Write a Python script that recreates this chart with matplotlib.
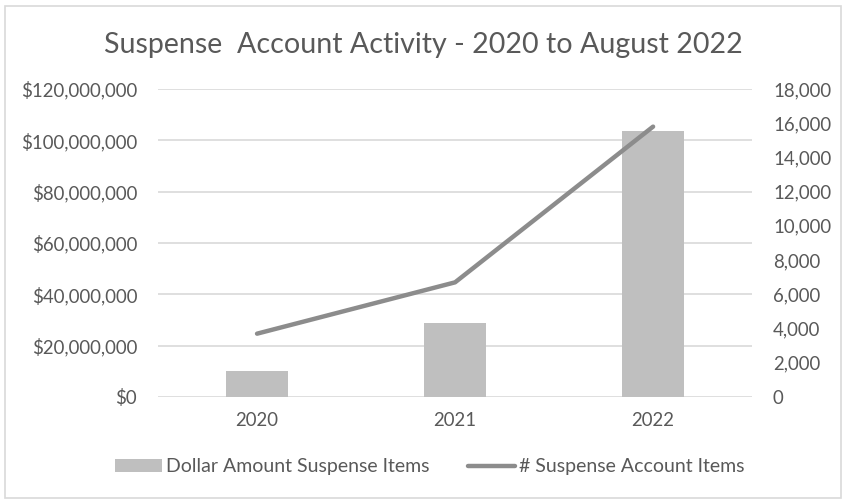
import matplotlib.pyplot as plt
from matplotlib.ticker import FuncFormatter
from matplotlib.patches import Rectangle

years = ['2020', '2021', '2022']
dollar_amount = [10_300_000, 28_900_000, 103_700_000]
item_count = [3700, 6700, 15800]

plt.rcParams['font.family'] = ['Lato', 'DejaVu Sans']
txt = '#595959'

fig = plt.figure(figsize=(8.46, 5.01), dpi=100)
ax = fig.add_axes([0.1868, 0.2076, 0.7022, 0.6148])
x = list(range(len(years)))

ax.bar(x, dollar_amount, width=0.31, color='#bfbfbf', zorder=2,
       label='Dollar Amount Suspense Items')
ax.set_ylim(0, 120_000_000)
ax.set_yticks(range(0, 120_000_001, 20_000_000))
ax.yaxis.set_major_formatter(FuncFormatter(lambda v, p: f'${v:,.0f}'))
ax.set_xlim(-0.5, 2.5)
ax.set_xticks(x)
ax.set_xticklabels(years)
ax.grid(axis='y', color='#d9d9d9', linewidth=1.2, zorder=0)
for s in ax.spines.values():
    s.set_visible(False)
ax.tick_params(length=0, labelsize=13.4, labelcolor=txt, pad=15)
ax.tick_params(axis='x', pad=11)

ax2 = ax.twinx()
ax2.plot(x, item_count, color='#8c8c8c', linewidth=3.2,
         solid_capstyle='round', label='# Suspense Account Items', zorder=3)
ax2.set_ylim(0, 18000)
ax2.set_yticks(range(0, 18001, 2000))
ax2.yaxis.set_major_formatter(FuncFormatter(lambda v, p: f'{v:,.0f}'))
for s in ax2.spines.values():
    s.set_visible(False)
ax2.tick_params(length=0, labelsize=13.4, labelcolor=txt, pad=15)

fig.text(0.5, 0.91, 'Suspense  Account Activity - 2020 to August 2022',
         ha='center', va='center', fontsize=20.6, color=txt)

h1, l1 = ax.get_legend_handles_labels()
h2, l2 = ax2.get_legend_handles_labels()
fig.legend(h1 + h2, l1 + l2, loc='center', bbox_to_anchor=(0.508, 0.068),
           ncol=2, frameon=False, fontsize=14, labelcolor=txt,
           handlelength=2.4, handletextpad=0.2, columnspacing=2.0)

fig.patches.append(Rectangle((0.006, 0.006), 0.988, 0.982, transform=fig.transFigure,
                             fill=False, edgecolor='#d9d9d9', linewidth=1.2))

fig.savefig('out.png', dpi=100)
